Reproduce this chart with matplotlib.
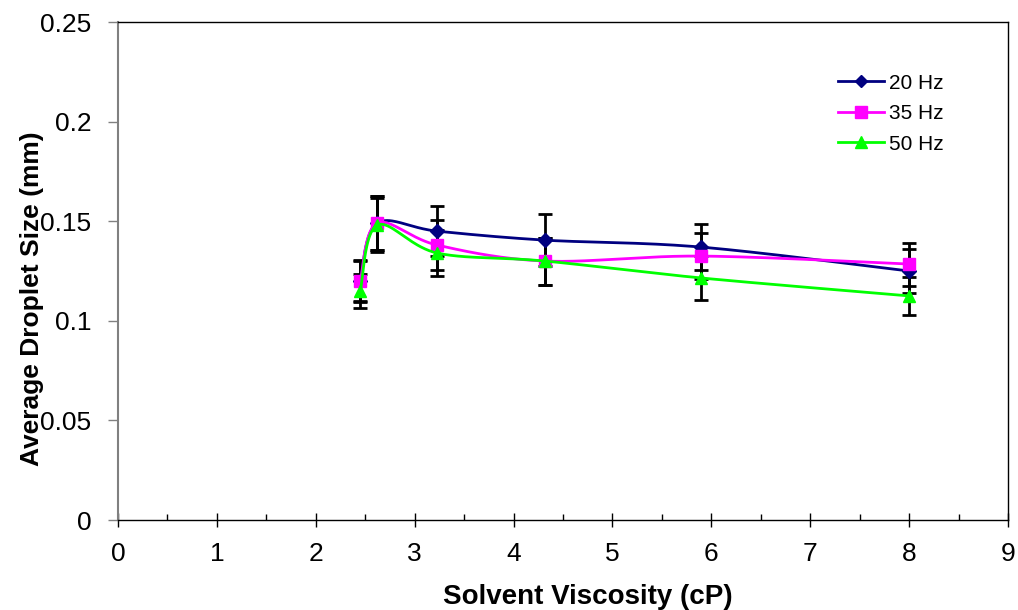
import numpy as np
import matplotlib
matplotlib.use("Agg")
import matplotlib.pyplot as plt
from matplotlib.ticker import MultipleLocator

plt.rcParams['font.family'] = ['Liberation Sans', 'DejaVu Sans']

viscosity = [2.45, 2.62, 3.23, 4.32, 5.90, 8.00]
labels = ["20 Hz", "35 Hz", "50 Hz"]
size_20 = [0.120, 0.149, 0.145, 0.1405, 0.137, 0.125]
size_35 = [0.120, 0.149, 0.138, 0.130, 0.1325, 0.1285]
size_50 = [0.115, 0.148, 0.134, 0.130, 0.1215, 0.1125]
err_20 = [0.010, 0.0135, 0.0125, 0.013, 0.0115, 0.0112]
err_35 = [0.0105, 0.0135, 0.0125, 0.0118, 0.0115, 0.0108]
err_50 = [0.0085, 0.0135, 0.0115, 0.0118, 0.011, 0.0096]

colors = ["#000080", "#FF00FF", "#00FF00"]
markers = ["D", "s", "^"]
msizes = [7, 9, 9]

fig = plt.figure(figsize=(10.18, 6.10), dpi=100)
ax = fig.add_axes([0.1159, 0.1475, 0.9902 - 0.1159, 0.9639 - 0.1475])
ax.set_xlim(0, 9)
ax.set_ylim(0, 0.25)

# pixel scale factors for Excel-style smoothing
W = 0.8743 * 1018
H = 0.8164 * 610
sx = W / 9.0
sy = H / 0.25


def excel_smooth(xs, ys, n=40):
    px = np.array(xs) * sx
    py = np.array(ys) * sy
    P = np.column_stack([px, py])
    m = len(P)
    out = [P[0]]
    for i in range(m - 1):
        p0 = P[i - 1] if i > 0 else P[i]
        p1 = P[i]
        p2 = P[i + 1]
        p3 = P[i + 2] if i + 2 < m else P[i + 1]
        c1 = p1 + (p2 - p0) / 6.0
        c2 = p2 - (p3 - p1) / 6.0
        t = np.linspace(0, 1, n)[1:, None]
        seg = ((1 - t) ** 3) * p1 + 3 * ((1 - t) ** 2) * t * c1 + 3 * (1 - t) * t ** 2 * c2 + t ** 3 * p2
        out.extend(seg)
    out = np.array(out)
    return out[:, 0] / sx, out[:, 1] / sy


series = [size_20, size_35, size_50]
errs = [err_20, err_35, err_50]
for ys, es in zip(series, errs):
    ax.errorbar(viscosity, ys, yerr=es, fmt='none', ecolor='black', elinewidth=2,
                capsize=5, capthick=2, zorder=2)

for i, (ys, lab) in enumerate(zip(series, labels)):
    cx, cy = excel_smooth(viscosity, ys)
    ax.plot(cx, cy, color=colors[i], lw=2, zorder=3 + i)
    ax.plot(viscosity, ys, linestyle='none', marker=markers[i], color=colors[i],
            markersize=msizes[i], zorder=3 + i)
    ax.plot([], [], color=colors[i], lw=2, marker=markers[i], markersize=msizes[i] - 1, label=lab)

ax.xaxis.set_major_locator(MultipleLocator(1))
ax.xaxis.set_minor_locator(MultipleLocator(0.5))
ax.set_yticks([0, 0.05, 0.1, 0.15, 0.2, 0.25])
ax.set_yticklabels(["0", "0.05", "0.1", "0.15", "0.2", "0.25"])

ax.tick_params(axis='x', which='major', direction='inout', length=10, width=1, color='black',
               labelsize=19, pad=11)
ax.tick_params(axis='x', which='minor', direction='in', length=4, width=1, color='black')
ax.tick_params(axis='y', which='major', direction='out', length=7, width=1, color='#808080',
               labelsize=19, pad=12)

for s in ['top', 'right', 'bottom']:
    ax.spines[s].set_color('black')
    ax.spines[s].set_linewidth(1)
ax.spines['left'].set_color('#808080')
ax.spines['left'].set_linewidth(1.5)

ax.set_xlabel("Solvent Viscosity (cP)", fontsize=20, fontweight='bold')
ax.set_ylabel("Average Droplet Size (mm)", fontsize=19, fontweight='bold')
ax.xaxis.set_label_coords(0.528, -0.128)
ax.yaxis.set_label_coords(-0.083, 0.444)

leg = ax.legend(loc='upper left', bbox_to_anchor=(0.788, 0.934), frameon=False, fontsize=15,
                handlelength=2.2, handletextpad=0.25, labelspacing=0.55)

fig.savefig("out.png", dpi=100)
